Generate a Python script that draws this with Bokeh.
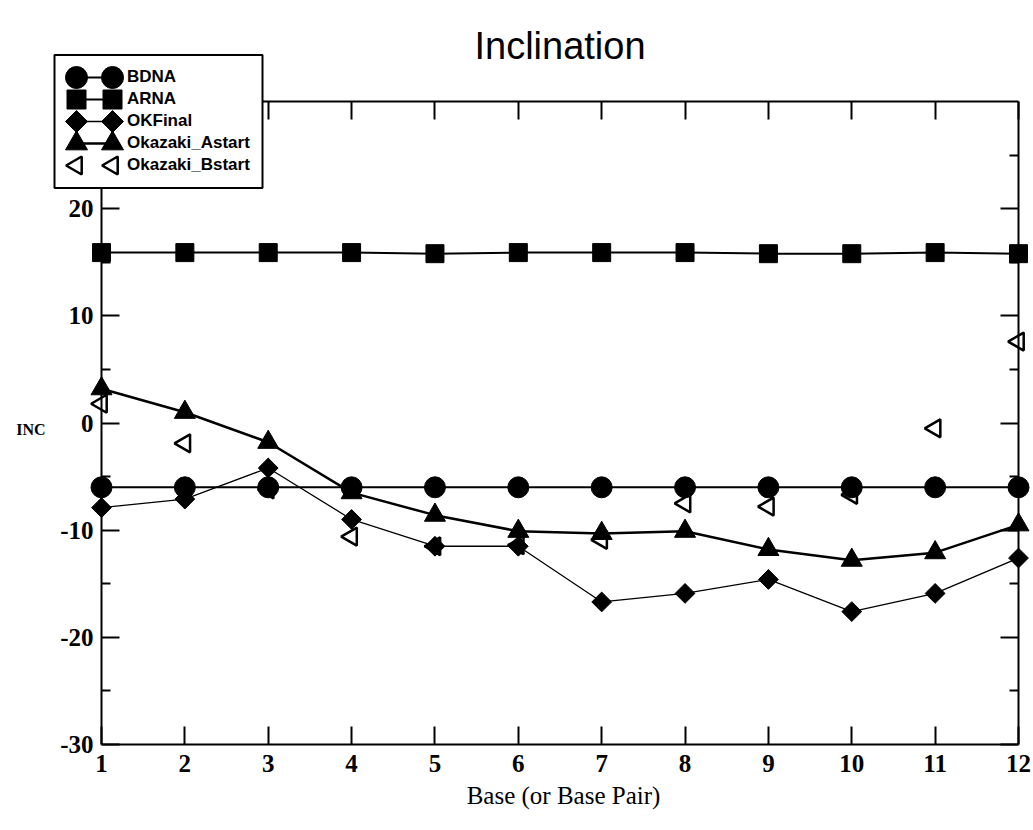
import math
from bokeh.plotting import figure
from bokeh.models import Range1d, FixedTicker, LinearAxis, Legend, LegendItem, Label
from bokeh.embed import file_html
from bokeh.resources import INLINE

# ---------------- data ----------------
bases = [1, 2, 3, 4, 5, 6, 7, 8, 9, 10, 11, 12]
bdna = [-6.0, -6.0, -6.0, -6.0, -6.0, -6.0, -6.0, -6.0, -6.0, -6.0, -6.0, -6.0]
arna = [15.9, 15.9, 15.9, 15.9, 15.8, 15.9, 15.9, 15.9, 15.8, 15.8, 15.9, 15.8]
okfinal = [-7.9, -7.1, -4.2, -9.0, -11.5, -11.5, -16.7, -15.9, -14.6, -17.6, -15.9, -12.6]
okazaki_astart = [3.2, 1.0, -1.8, -6.5, -8.6, -10.1, -10.3, -10.1, -11.8, -12.8, -12.1, -9.5]
okazaki_bstart = [1.8, -1.9, -6.2, -10.6, -11.5, -11.4, -10.9, -7.5, -7.8, -6.7, -0.5, 7.6]
series_names = ["BDNA", "ARNA", "OKFinal", "Okazaki_Astart", "Okazaki_Bstart"]
x_ticks = [1, 2, 3, 4, 5, 6, 7, 8, 9, 10, 11, 12]
y_major = [-30, -20, -10, 0, 10, 20]
y_minor = [-25, -15, -5, 5, 15, 25]
X_MIN, X_MAX = 1, 12
Y_MIN, Y_MAX = -30, 30
title_text = "Inclination"
x_label = "Base (or Base Pair)"
y_label = "INC"

# ---------------- layout (pixels) ----------------
W, H = 1033, 830
FL, FR, FT, FB = 101, 1018, 101, 744   # where the data box sits on the canvas

sx = (FR - FL) / (X_MAX - X_MIN)
sy = (FB - FT) / (Y_MAX - Y_MIN)
x_rng = Range1d(X_MIN - FL / sx, X_MAX + (W - FR) / sx)
y_rng = Range1d(Y_MIN - (H - FB) / sy, Y_MAX + FT / sy)


def px_x(px):
    return x_rng.start + px / sx


def px_y(py):
    return y_rng.end - py / sy


p = figure(width=W, height=H, output_backend="svg", toolbar_location=None,
           x_range=x_rng, y_range=y_rng,
           x_axis_location=None, y_axis_location=None, min_border=0)
p.grid.visible = False
p.outline_line_color = None
p.background_fill_color = "white"
p.border_fill_color = "white"


def make_axis(ticks, minor, labels, standoff, loc, bounds):
    ax = LinearAxis(ticker=FixedTicker(ticks=ticks, minor_ticks=minor),
                    fixed_location=loc, bounds=bounds)
    ax.axis_line_color = "black"
    ax.axis_line_width = 2
    ax.major_tick_in = 18
    ax.major_tick_out = 0
    ax.major_tick_line_width = 2
    ax.major_tick_line_color = "black"
    ax.minor_tick_in = 9
    ax.minor_tick_out = 0
    ax.minor_tick_line_width = 2
    ax.minor_tick_line_color = "black" if minor else None
    ax.major_label_text_font = "Liberation Serif"
    ax.major_label_text_font_style = "bold"
    ax.major_label_text_font_size = "25px"
    ax.major_label_text_color = "black"
    ax.major_label_standoff = standoff
    if labels:
        ax.major_label_overrides = {t: str(t) for t in ticks}
    else:
        ax.major_label_overrides = {t: "" for t in ticks}
        ax.major_label_text_font_size = "1px"
        ax.major_label_standoff = 0
    return ax


p.add_layout(make_axis(x_ticks, [], True, 10, Y_MIN, (X_MIN, X_MAX)), "below")
p.add_layout(make_axis(x_ticks, [], False, 0, Y_MAX, (X_MIN, X_MAX)), "above")
p.add_layout(make_axis(y_major, y_minor, True, 8, X_MIN, (Y_MIN, Y_MAX)), "left")
p.add_layout(make_axis(y_major, y_minor, False, 0, X_MAX, (Y_MIN, Y_MAX)), "right")

# ---------------- series ----------------
STY = [
    dict(marker="circle", size=21, angle=0.0, fill_color="black", line_width=1, lw=2),
    dict(marker="square", size=18, angle=0.0, fill_color="black", line_width=1, lw=2),
    dict(marker="square", size=14, angle=math.pi / 4, fill_color="black", line_width=1, lw=1.3),
    dict(marker="triangle", size=21, angle=0.0, fill_color="black", line_width=1, lw=2.5),
    dict(marker="triangle", size=18, angle=math.pi / 2, fill_color=None, line_width=2.5, lw=None),
]
series_values = [bdna, arna, okfinal, okazaki_astart, okazaki_bstart]

for vals, st in zip(series_values, STY):
    if st["lw"] is not None:
        p.line(bases, vals, line_color="black", line_width=st["lw"])
    p.scatter(bases, vals, marker=st["marker"], size=st["size"], angle=st["angle"],
              fill_color=st["fill_color"], line_color="black", line_width=st["line_width"])
dummy = p.line(bases, bdna, line_alpha=0)

# ---------------- legend ----------------
LEG_LEFT, LEG_RIGHT, LEG_BOTTOM = 54, 262, 187.5
PAD, ROW, SP = 12, 21, 1
GW, STANDOFF = 56, 5
n = len(series_names)
leg_h = 2 * PAD + n * ROW + (n - 1) * SP
leg_top = LEG_BOTTOM - leg_h
row_cy = [leg_top + PAD + ROW / 2 + i * (ROW + SP) for i in range(n)]

# white box that hides the frame corner, drawn above the axes
p.quad(left=[px_x(LEG_LEFT)], right=[px_x(LEG_RIGHT)], top=[px_y(leg_top)],
       bottom=[px_y(LEG_BOTTOM)], fill_color="white", line_color="black",
       line_width=2, level="overlay")

# legend samples: marker - line - marker
MK_L, MK_R = 76, 112
LEG_MK_SIZE = [22, 19, 15.5, 22, 18]
for st, cy, ms in zip(STY, row_cy, LEG_MK_SIZE):
    yy = px_y(cy)
    if st["lw"] is not None:
        p.line([px_x(MK_L), px_x(MK_R)], [yy, yy], line_color="black",
               line_width=st["lw"], level="overlay")
    p.scatter([px_x(MK_L), px_x(MK_R)], [yy, yy], marker=st["marker"], size=ms,
              angle=st["angle"], fill_color=st["fill_color"], line_color="black",
              line_width=st["line_width"], level="overlay")

# legend labels (transparent legend on top)
main_leg = Legend(items=[LegendItem(label=nm, renderers=[dummy]) for nm in series_names],
                  location=(LEG_LEFT, H - LEG_BOTTOM), padding=PAD, spacing=SP,
                  margin=0, glyph_width=GW, glyph_height=ROW, label_height=ROW,
                  label_standoff=STANDOFF, label_text_font="Liberation Sans",
                  label_text_font_style="bold", label_text_font_size="17px",
                  label_text_color="black", border_line_color="black",
                  border_line_alpha=0, background_fill_alpha=0)
p.add_layout(main_leg)

# ---------------- texts ----------------
p.add_layout(Label(x=(FL + FR) / 2, y=H - 45, x_units="screen", y_units="screen",
                   text=title_text, text_align="center", text_baseline="alphabetic",
                   text_font="Liberation Sans", text_font_size="38px", text_color="black"))
p.add_layout(Label(x=563, y=H - 795, x_units="screen", y_units="screen",
                   text=x_label, text_align="center", text_baseline="alphabetic",
                   text_font="Liberation Serif", text_font_size="25px", text_color="black"))
p.add_layout(Label(x=45, y=H - 429, x_units="screen", y_units="screen",
                   text=y_label, text_align="right", text_baseline="alphabetic",
                   text_font="Liberation Serif", text_font_style="bold",
                   text_font_size="16px", text_color="black"))

open("out.html", "w").write(file_html(p, INLINE))
